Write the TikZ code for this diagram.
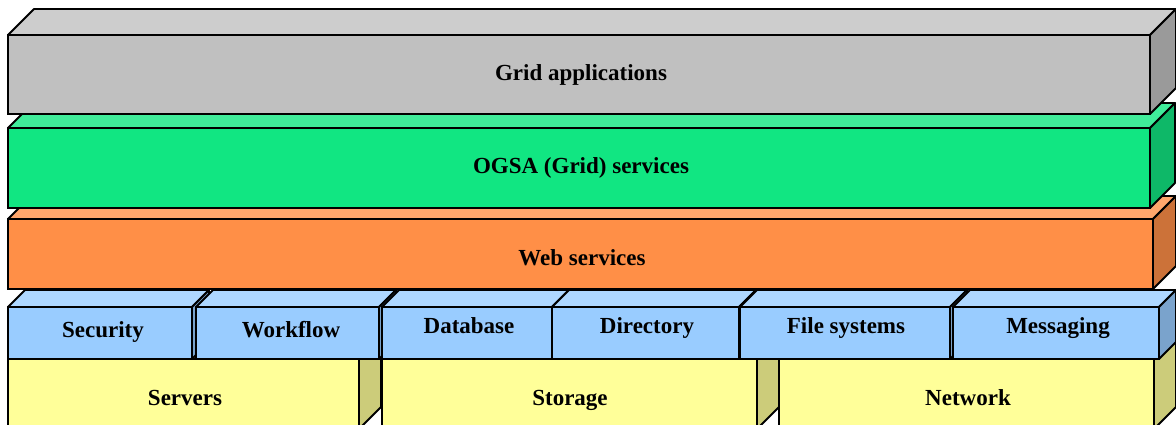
\documentclass[tikz,border=0pt]{standalone}
\usepackage{fontspec}
\setmainfont{Liberation Serif}
\definecolor{greyF}{HTML}{C0C0C0}
\definecolor{greyT}{HTML}{CDCDCD}
\definecolor{greyS}{HTML}{9A9A9A}
\definecolor{greenF}{HTML}{11E682}
\definecolor{greenT}{HTML}{40EC9A}
\definecolor{greenS}{HTML}{0EB868}
\definecolor{orangeF}{HTML}{FF8F47}
\definecolor{orangeT}{HTML}{FFA66C}
\definecolor{orangeS}{HTML}{CC7239}
\definecolor{blueF}{HTML}{99CCFF}
\definecolor{blueT}{HTML}{AED7FF}
\definecolor{blueS}{HTML}{7AA3CC}
\definecolor{yelF}{HTML}{FFFF99}
\definecolor{yelT}{HTML}{FFFFB3}
\definecolor{yelS}{HTML}{CCCC7A}
\tikzset{
  face/.style={draw=black, line width=1.8pt, inner sep=0pt, outer sep=0pt, anchor=north west},
  edge/.style={draw=black, line width=1.8pt, line join=round},
  lbl/.style={font=\bfseries\fontsize{23}{28}\selectfont, text=black, anchor=base, inner sep=0pt}
}
\newcommand\slab[9]{%
  \node[face, fill=#7, minimum width={(#4-#2)*1pt}, minimum height={(#5-#3)*1pt}] (#1) at (#2,#3) {};
  \filldraw[edge, fill=#8] (#1.north west) -- ++(#6,-#6) -- ([shift={(#6,-#6)}]#1.north east) -- (#1.north east) -- cycle;
  \filldraw[edge, fill=#9] (#1.north east) -- ++(#6,-#6) -- ([shift={(#6,-#6)}]#1.south east) -- (#1.south east) -- cycle;
}
\begin{document}
\begin{tikzpicture}[x=1pt,y=-1pt]
\useasboundingbox (0,0) rectangle (1176,425);
\clip (0,0) rectangle (1176,425);
\fill[white] (0,0) rectangle (1176,425);
% hardware layer
\slab{srvF}{8}{359}{359}{429}{22}{yelF}{yelT}{yelS}
\slab{stoF}{382}{359}{757}{429}{22}{yelF}{yelT}{yelS}
\slab{netF}{779}{359}{1154}{429}{22}{yelF}{yelT}{yelS}
% middleware layer
\slab{secF}{8}{307}{192}{359}{17}{blueF}{blueT}{blueS}
\slab{wfF}{196}{307}{379}{359}{17}{blueF}{blueT}{blueS}
\slab{dbF}{382}{307}{552}{359}{17}{blueF}{blueT}{blueS}
\slab{dirF}{552}{307}{739}{359}{17}{blueF}{blueT}{blueS}
\slab{fsF}{740}{307}{950}{359}{17}{blueF}{blueT}{blueS}
\slab{msgF}{953}{307}{1159}{359}{17}{blueF}{blueT}{blueS}
% upper layers
\slab{webF}{8}{219}{1153}{289}{23}{orangeF}{orangeT}{orangeS}
\slab{ogsaF}{8}{128}{1150}{208}{25}{greenF}{greenT}{greenS}
\slab{gridF}{8}{35}{1150}{114}{26}{greyF}{greyT}{greyS}
% labels
\node[lbl] (gridL) at (581,81) {Grid applications};
\node[lbl] (ogsaL) at (581,174) {OGSA (Grid) services};
\node[lbl] (webL) at (582,265) {Web services};
\node[lbl] (secL) at (103,337) {Security};
\node[lbl] (wfL) at (291,337) {Workflow};
\node[lbl] (dbL) at (469,333) {Database};
\node[lbl] (dirL) at (647,333) {Directory};
\node[lbl] (fsL) at (846,333) {File systems};
\node[lbl] (msgL) at (1058,333) {Messaging};
\node[lbl] (srvL) at (185,405) {Servers};
\node[lbl] (stoL) at (570,405) {Storage};
\node[lbl] (netL) at (968,405) {Network};
\end{tikzpicture}
\end{document}
